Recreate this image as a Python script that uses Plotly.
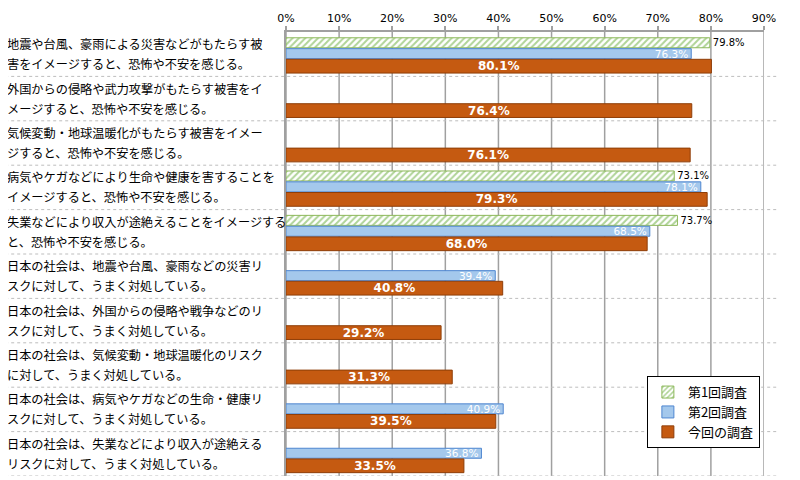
import plotly.graph_objects as go

categories = [
    "地震や台風、豪雨による災害などがもたらす被<br>害をイメージすると、恐怖や不安を感じる。",
    "外国からの侵略や武力攻撃がもたらす被害をイ<br>メージすると、恐怖や不安を感じる。",
    "気候変動・地球温暖化がもたらす被害をイメー<br>ジすると、恐怖や不安を感じる。",
    "病気やケガなどにより生命や健康を害することを<br>イメージすると、恐怖や不安を感じる。",
    "失業などにより収入が途絶えることをイメージする<br>と、恐怖や不安を感じる。",
    "日本の社会は、地震や台風、豪雨などの災害リ<br>スクに対して、うまく対処している。",
    "日本の社会は、外国からの侵略や戦争などのリ<br>スクに対して、うまく対処している。",
    "日本の社会は、気候変動・地球温暖化のリスク<br>に対して、うまく対処している。",
    "日本の社会は、病気やケガなどの生命・健康リ<br>スクに対して、うまく対処している。",
    "日本の社会は、失業などにより収入が途絶える<br>リスクに対して、うまく対処している。",
]
series_names = ["第1回調査", "第2回調査", "今回の調査"]
survey1 = [79.8, None, None, 73.1, 73.7, None, None, None, None, None]
survey2 = [76.3, None, None, 78.1, 68.5, 39.4, None, None, 40.9, 36.8]
current = [80.1, 76.4, 76.1, 79.3, 68.0, 40.8, 29.2, 31.3, 39.5, 33.5]
x_ticks = [0, 10, 20, 30, 40, 50, 60, 70, 80, 90]

fig = go.Figure()

fig.add_trace(go.Bar(
    name=series_names[0], legendgroup="g1", y=categories, x=survey1, orientation="h",
    width=0.225, offset=-0.37,
    marker=dict(color="white", line=dict(color="#8DB85A", width=1),
                pattern=dict(shape="/", fgcolor="#5FA82F", bgcolor="white",
                             size=4.5, solidity=0.45)),
    texttemplate="%{x:.1f}%", textposition="outside", constraintext="none",
    textfont=dict(family="DejaVu Sans", size=10, color="#000000"),
    cliponaxis=False, hoverinfo="skip",
))
fig.add_trace(go.Bar(
    name=series_names[1], legendgroup="g2", y=categories, x=survey2, orientation="h",
    width=0.225, offset=-0.125,
    marker=dict(color="#A4C8EC", line=dict(color="#4F86D0", width=1)),
    texttemplate="%{x:.1f}%", textposition="inside", insidetextanchor="end",
    constraintext="none",
    textfont=dict(family="DejaVu Sans", size=10.5, color="#FFFFFF"),
    hoverinfo="skip",
))
fig.add_trace(go.Bar(
    name=series_names[2], legendgroup="g3", y=categories, x=current, orientation="h",
    width=0.31, offset=0.115,
    marker=dict(color="#C55A11", line=dict(color="#8F3E08", width=1)),
    texttemplate="<b>%{x:.1f}%</b>", textposition="inside", insidetextanchor="middle",
    constraintext="none",
    textfont=dict(family="DejaVu Sans", size=12, color="#FFFFFF"),
    hoverinfo="skip",
))

shapes = []
for v in x_ticks:
    shapes.append(dict(type="line", xref="x", yref="paper", x0=v, x1=v, y0=0, y1=1,
                       line=dict(color="#A0A0A0", width=1.5), layer="below"))
for i in range(len(categories)):
    shapes.append(dict(type="line", xref="paper", yref="y", x0=-0.6, x1=1.027,
                       y0=i + 0.5, y1=i + 0.5,
                       line=dict(color="#BDBDBD", width=1, dash="dot"), layer="below"))

annotations = []
for c in categories:
    lines = c.split("<br>")
    for k, ln in enumerate(lines):
        annotations.append(dict(xref="paper", yref="y", x=-0.588, y=c, text=ln,
                                showarrow=False, xanchor="left", yanchor="middle", align="left",
                                yshift=(10 if k == 0 else -10),
                                font=dict(family="Noto Sans CJK JP", size=12.2, color="#000000")))

fig.update_layout(
    width=792, height=472,
    margin=dict(l=278, r=36, t=24, b=4),
    paper_bgcolor="white", plot_bgcolor="white",
    barmode="overlay",
    shapes=shapes, annotations=annotations,
    legend=dict(x=0.755, y=0.225, xanchor="left", yanchor="top",
                bgcolor="white", bordercolor="#000000", borderwidth=1,
                traceorder="normal",
                font=dict(family="Noto Sans CJK JP", size=13, color="#000000"),
                itemwidth=30, tracegroupgap=12),
    xaxis=dict(side="top", range=[0, 90], tickvals=x_ticks,
               ticktext=[f"{v}%" for v in x_ticks],
               showgrid=False,
               showline=True, linecolor="#A0A0A0", linewidth=1.5,
               ticks="outside", ticklen=4, tickcolor="#A0A0A0", tickwidth=1.5,
               tickfont=dict(family="DejaVu Sans", size=11, color="#000000"),
               zeroline=False, fixedrange=True),
    yaxis=dict(range=[9.5, -0.5], showticklabels=False, showgrid=False,
               showline=True, linecolor="#A0A0A0", linewidth=1.5,
               zeroline=False, ticks="", fixedrange=True),
    showlegend=True,
)

fig.write_html("out.html")
